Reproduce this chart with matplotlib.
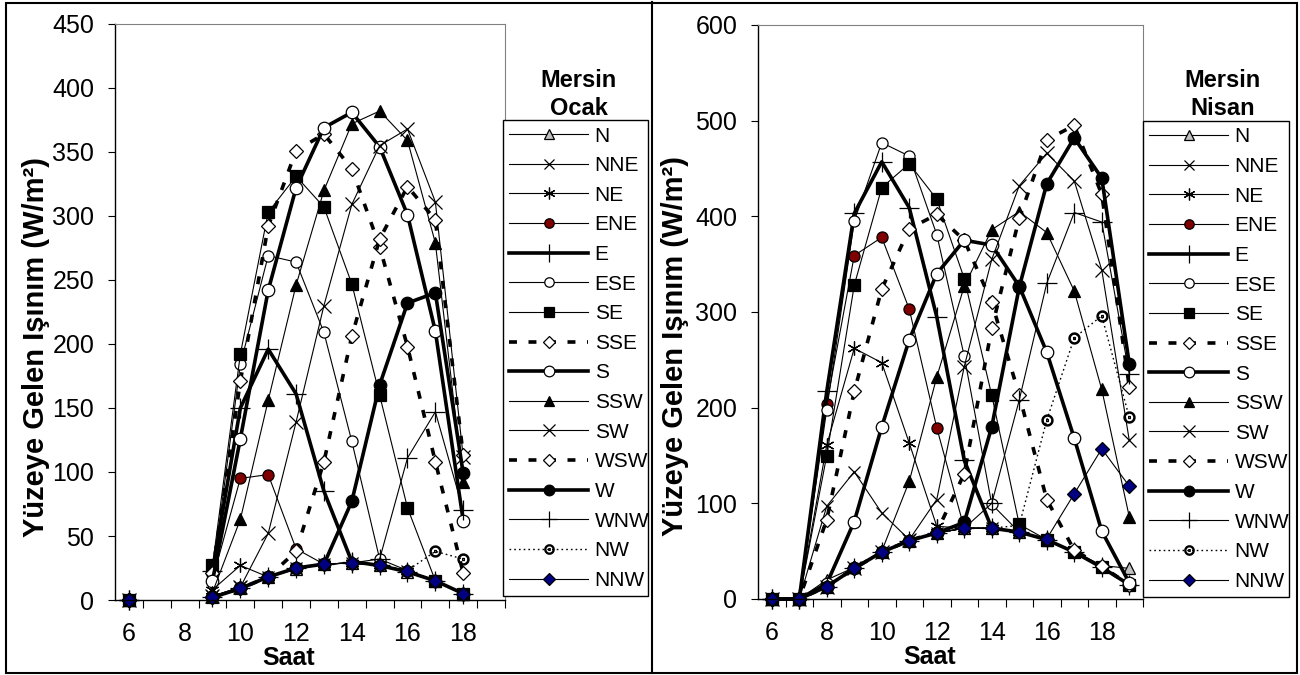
import numpy as np
import matplotlib.pyplot as plt
from matplotlib.patches import Rectangle
from matplotlib.lines import Line2D

plt.rcParams['font.family'] = ['Liberation Sans', 'DejaVu Sans']

nan = np.nan
yonler = ['N', 'NNE', 'NE', 'ENE', 'E', 'ESE', 'SE', 'SSE',
          'S', 'SSW', 'SW', 'WSW', 'W', 'WNW', 'NW', 'NNW']

# Ocak (January), hours 6..18 -- 7 and 8 are blank in the source
saat_ocak = [6, 7, 8, 9, 10, 11, 12, 13, 14, 15, 16, 17, 18]
ocak_n = [0, nan, nan, 2, 9, 18, 24, 28, 29, 27, 22, 15, 5]
ocak_nne = [0, nan, nan, 3, 10, 18, 25, 28, 29, 27, 23, 15, 5]
ocak_ne = [0, nan, nan, 8, 27, 18, 25, 28, 29, 27, 23, 15, 5]
ocak_ene = [0, nan, nan, 16, 95, 98, 40, 28, 29, 27, 23, 15, 5]
ocak_e = [0, nan, nan, 23, 150, 196, 161, 85, 30, 27, 22, 15, 5]
ocak_ese = [0, nan, nan, 20, 184, 269, 264, 209, 124, 32, 23, 15, 5]
ocak_se = [0, nan, nan, 27, 192, 303, 331, 307, 247, 160, 72, 15, 5]
ocak_sse = [0, nan, nan, 21, 171, 292, 351, 364, 337, 276, 198, 108, 21]
ocak_s = [0, nan, nan, 15, 126, 242, 322, 369, 381, 354, 301, 210, 62]
ocak_ssw = [0, nan, nan, 6, 63, 156, 246, 320, 372, 382, 359, 279, 92]
ocak_sw = [0, nan, nan, 3, 10, 52, 139, 230, 309, 355, 368, 311, 112]
ocak_wsw = [0, nan, nan, 2, 9, 18, 38, 108, 206, 282, 323, 297, 113]
ocak_w = [0, nan, nan, 2, 9, 18, 25, 28, 77, 168, 232, 240, 99]
ocak_wnw = [0, nan, nan, 2, 9, 18, 25, 28, 29, 32, 111, 147, 70]
ocak_nw = [0, nan, nan, 2, 9, 18, 25, 28, 29, 27, 23, 38, 32]
ocak_nnw = [0, nan, nan, 2, 9, 18, 25, 28, 29, 27, 23, 15, 5]

# Nisan (April), hours 6..19
saat_nisan = [6, 7, 8, 9, 10, 11, 12, 13, 14, 15, 16, 17, 18, 19]
nisan_n = [0, 0, 20, 33, 49, 61, 69, 74, 74, 70, 62, 50, 35, 32]
nisan_nne = [0, 0, 97, 133, 90, 62, 69, 74, 74, 70, 62, 49, 33, 15]
nisan_ne = [0, 0, 161, 262, 247, 163, 76, 74, 74, 70, 62, 49, 33, 15]
nisan_ene = [0, 0, 204, 359, 378, 303, 179, 74, 74, 70, 62, 49, 33, 15]
nisan_e = [0, 0, 217, 403, 457, 409, 295, 145, 74, 70, 62, 49, 33, 15]
nisan_ese = [0, 0, 198, 395, 477, 463, 381, 254, 99, 70, 62, 49, 33, 15]
nisan_se = [0, 0, 150, 328, 430, 455, 418, 335, 213, 78, 62, 49, 33, 15]
nisan_sse = [0, 0, 83, 217, 324, 387, 402, 375, 310, 213, 104, 51, 34, 15]
nisan_s = [0, 0, 16, 81, 180, 271, 340, 375, 370, 327, 258, 168, 71, 17]
nisan_ssw = [0, 0, 13, 33, 50, 123, 232, 327, 386, 405, 383, 322, 219, 86]
nisan_sw = [0, 0, 13, 32, 49, 62, 104, 243, 355, 432, 466, 437, 344, 166]
nisan_wsw = [0, 0, 13, 32, 49, 61, 70, 131, 283, 398, 480, 495, 423, 222]
nisan_w = [0, 0, 13, 32, 49, 61, 69, 80, 180, 326, 434, 482, 440, 246]
nisan_wnw = [0, 0, 13, 32, 49, 61, 69, 74, 100, 208, 330, 404, 394, 235]
nisan_nw = [0, 0, 13, 32, 49, 61, 69, 74, 74, 77, 187, 273, 296, 190]
nisan_nnw = [0, 0, 13, 32, 49, 61, 69, 74, 74, 70, 63, 110, 157, 118]

ocak = [ocak_n, ocak_nne, ocak_ne, ocak_ene, ocak_e, ocak_ese, ocak_se, ocak_sse,
        ocak_s, ocak_ssw, ocak_sw, ocak_wsw, ocak_w, ocak_wnw, ocak_nw, ocak_nnw]
nisan = [nisan_n, nisan_nne, nisan_ne, nisan_ene, nisan_e, nisan_ese, nisan_se, nisan_sse,
         nisan_s, nisan_ssw, nisan_sw, nisan_wsw, nisan_w, nisan_wnw, nisan_nw, nisan_nnw]

thin, thick = 0.8, 2.6
dash = (0, (2.2, 3.2))
stil = {
    'N':   dict(lw=thin, ls='-', marker='^', ms=8, mfc='#c0c0c0'),
    'NNE': dict(lw=thin, ls='-', marker='x', ms=9, mfc='none'),
    'NE':  dict(lw=thin, ls='-', marker=(6, 2, 0), ms=10, mfc='none'),
    'ENE': dict(lw=thin, ls='-', marker='o', ms=8, mfc='#800000'),
    'E':   dict(lw=thick, ls='-', marker='+', ms=15, mfc='none'),
    'ESE': dict(lw=thin, ls='-', marker='o', ms=8, mfc='white'),
    'SE':  dict(lw=thin, ls='-', marker='s', ms=8, mfc='black'),
    'SSE': dict(lw=thick, ls=dash, marker='D', ms=7, mfc='white'),
    'S':   dict(lw=thick, ls='-', marker='o', ms=9, mfc='white'),
    'SSW': dict(lw=thin, ls='-', marker='^', ms=9, mfc='black'),
    'SW':  dict(lw=thin, ls='-', marker='x', ms=10, mfc='none'),
    'WSW': dict(lw=thick, ls=dash, marker='D', ms=7, mfc='white'),
    'W':   dict(lw=thick, ls='-', marker='o', ms=9, mfc='black'),
    'WNW': dict(lw=thin, ls='-', marker='+', ms=14, mfc='none'),
    'NW':  dict(lw=1.0, ls=(0, (1.2, 2.2)), marker=r'$\odot$', ms=8, mfc='none'),
    'NNW': dict(lw=thin, ls='-', marker='D', ms=7, mfc='#000080'),
}

fig = plt.figure(figsize=(13, 6.75), dpi=100)
W, H = 1300, 675


def px(x0, y0, x1, y1):
    return [x0 / W, 1 - y1 / H, (x1 - x0) / W, (y1 - y0) / H]


def panel(ax, saat, seriler, ymax, ystep, baslik, leg_box, tx, ylab_x, xlab_x):
    for ad, y in zip(yonler, seriler):
        s = stil[ad]
        ax.plot(saat, y, color='black', lw=s['lw'], ls=s['ls'], marker=s['marker'],
                ms=s['ms'], mfc=s['mfc'], mec='black', mew=0.9, label=ad,
                clip_on=False)
    ax.set_xlim(5.5, 19.5)
    ax.set_ylim(0, ymax)
    ax.set_xticks(range(6, 19, 2))
    ax.set_xticks(np.arange(6.5, 19.6, 1), minor=True)
    ax.tick_params(axis='x', which='major', length=0, labelsize=18, pad=16)
    ax.tick_params(axis='x', which='minor', length=6, direction='out', width=0.8)
    ax.set_yticks(np.arange(0, ymax + 1, ystep))
    ax.tick_params(axis='y', length=5, direction='out', width=0.8, labelsize=18, pad=10)
    for k in ['top', 'right']:
        ax.spines[k].set_color('#808080')
        ax.spines[k].set_linewidth(0.8)
    for k in ['left', 'bottom']:
        ax.spines[k].set_linewidth(1.0)
    ax.set_xlabel('Saat', fontsize=18, weight='bold')
    ax.set_ylabel('Yüzeye Gelen Işınım (W/m²)', fontsize=21, weight='bold')
    ax.yaxis.set_label_coords(ylab_x, 0.44)
    ax.xaxis.set_label_coords(xlab_x, -0.08)
    leg = ax.legend(loc='upper left', bbox_to_anchor=leg_box, bbox_transform=fig.transFigure,
                    mode='expand', fontsize=15, frameon=True, fancybox=False,
                    edgecolor='black', framealpha=1, borderaxespad=0, borderpad=0.3,
                    labelspacing=0.51, handlelength=3.8, handletextpad=0.3,
                    numpoints=1, markerscale=0.85)
    leg.get_frame().set_linewidth(1.0)
    fig.text(tx, 0.86, baslik, ha='center', va='center', fontsize=17,
             weight='bold', linespacing=1.25)


ax1 = fig.add_axes(px(115, 24, 505, 600))
panel(ax1, saat_ocak, ocak, 450, 50, 'Mersin\nOcak',
      (503 / W, 1 - 127 / H, 145 / W, 0.01), 579 / W, -0.167, 0.444)

ax2 = fig.add_axes(px(758, 25, 1143, 599))
panel(ax2, saat_nisan, nisan, 600, 100, 'Mersin\nNisan',
      (1143 / W, 1 - 128 / H, 146 / W, 0.01), 1223 / W, -0.18, 0.447)

# outer frame and divider
fig.add_artist(Rectangle((6 / W, 2 / H), 1291 / W, 670 / H, transform=fig.transFigure,
                         fill=False, lw=1.5, ec='black'))
fig.add_artist(Line2D([652 / W, 652 / W], [2 / H, 673 / H], transform=fig.transFigure,
                      lw=1.5, color='black'))

fig.savefig('out.png', dpi=100)
